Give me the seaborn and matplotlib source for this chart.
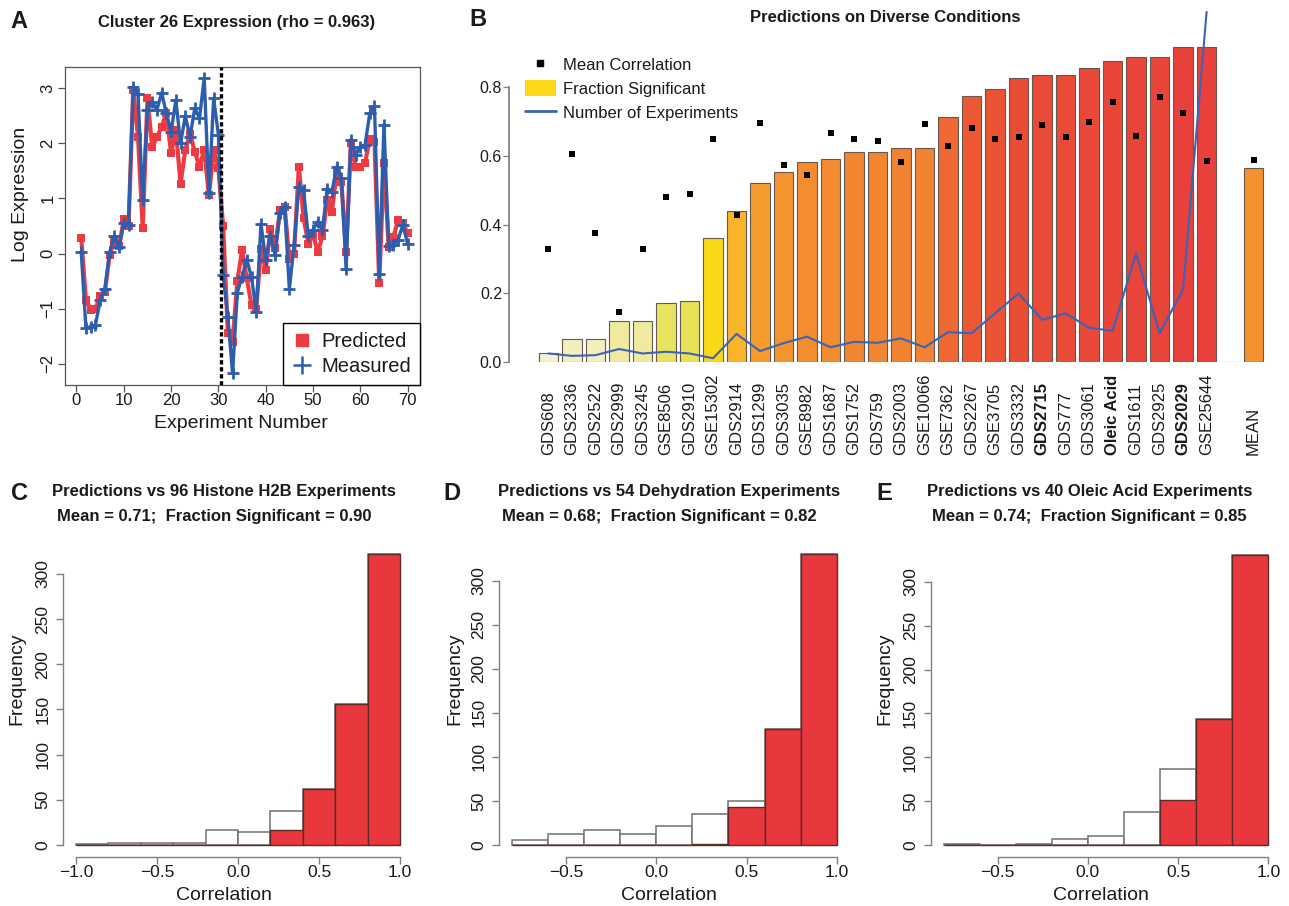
import numpy as np
import matplotlib
matplotlib.use("Agg")
import matplotlib.pyplot as plt
import seaborn as sns
from matplotlib.lines import Line2D
from matplotlib.patches import Patch
from matplotlib.colors import LinearSegmentedColormap

# ---------------- data ----------------
experiment_number = list(range(1, 71))
predicted = [0.29, -0.85, -1.02, -1.00, -0.78, -0.70, -0.03, 0.22, 0.13, 0.62,
             0.50, 2.98, 2.12, 0.47, 2.82, 1.94, 2.12, 2.30, 2.55, 1.82,
             2.25, 1.27, 1.88, 2.18, 1.85, 1.58, 1.88, 1.06, 1.88, 1.55,
             0.50, -1.45, -1.60, -0.50, 0.06, -0.45, -0.94, -1.00, 0.09, -0.30,
             0.45, 0.10, 0.79, 0.85, -0.10, 0.00, 1.58, 0.65, 0.18, 0.34,
             0.03, 0.31, 0.97, 0.76, 1.48, 1.30, 0.03, 2.00, 1.58, 1.58,
             1.64, 2.09, 2.03, -0.54, 1.64, 0.12, 0.30, 0.61, 0.55, 0.37]
measured = [0.03, -1.36, -1.33, -1.30, -0.85, -0.65, 0.02, 0.32, 0.11, 0.56,
            0.52, 3.03, 2.90, 0.97, 2.61, 2.76, 2.61, 2.92, 2.55, 2.21,
            2.79, 2.00, 2.50, 2.12, 2.64, 2.46, 3.19, 1.10, 2.82, 2.16,
            -0.39, -1.15, -2.18, -0.71, -0.42, -0.11, -0.43, -1.06, 0.54, -0.11,
            0.31, -0.03, 0.73, 0.85, -0.65, 0.15, 1.21, 1.15, 0.31, 0.43,
            0.58, 0.43, 1.18, 1.12, 1.58, 1.37, -0.29, 2.07, 1.79, 1.94,
            1.97, 2.55, 2.68, -0.37, 2.34, 0.14, 0.15, 0.25, 0.52, 0.18]
boundary_experiment = 30.5

conditions = ["GDS608", "GDS2336", "GDS2522", "GDS2999", "GDS3245", "GSE8506", "GDS2910",
              "GSE15302", "GDS2914", "GDS1299", "GDS3035", "GSE8982", "GDS1687", "GDS1752",
              "GDS759", "GDS2003", "GSE10066", "GSE7362", "GDS2267", "GSE3705", "GDS3332",
              "GDS2715", "GDS777", "GDS3061", "Oleic Acid", "GDS1611", "GDS2925", "GDS2029",
              "GSE25644", "", "MEAN"]
bold_conditions = ["GDS2715", "Oleic Acid", "GDS2029"]
fraction_significant = [0.025, 0.065, 0.065, 0.12, 0.12, 0.17, 0.178, 0.36, 0.44, 0.52,
                        0.552, 0.581, 0.59, 0.612, 0.612, 0.622, 0.622, 0.714, 0.775, 0.796,
                        0.826, 0.837, 0.837, 0.856, 0.878, 0.887, 0.887, 0.917, 0.917, 0.0,
                        0.564]
mean_correlation = [0.328, 0.607, 0.376, 0.146, 0.328, 0.481, 0.488, 0.648, 0.428, 0.697,
                    0.573, 0.544, 0.666, 0.648, 0.644, 0.581, 0.693, 0.630, 0.682, 0.648,
                    0.656, 0.689, 0.656, 0.700, 0.756, 0.659, 0.771, 0.726, 0.585, None,
                    0.588]
n_experiments_scaled = [0.024, 0.017, 0.019, 0.037, 0.024, 0.029, 0.024, 0.010, 0.081, 0.031,
                        0.054, 0.073, 0.042, 0.058, 0.055, 0.068, 0.042, 0.086, 0.083, 0.141,
                        0.199, 0.122, 0.141, 0.099, 0.090, 0.316, 0.083, 0.211, 1.02]

edges_C = [-1.0, -0.8, -0.6, -0.4, -0.2, 0.0, 0.2, 0.4, 0.6, 0.8, 1.0]
h2b_all = [1, 2, 2, 2, 17, 14, 38, 62, 156, 322]
h2b_sig = [0, 0, 0, 0, 0, 0, 16, 62, 156, 322]
edges_DE = [-0.8, -0.6, -0.4, -0.2, 0.0, 0.2, 0.4, 0.6, 0.8, 1.0]
dehyd_all = [6, 13, 17, 12, 21, 35, 50, 132, 330]
dehyd_sig = [0, 0, 0, 0, 0, 1, 43, 132, 330]
oleic_all = [1, 0, 1, 7, 10, 38, 87, 144, 331]
oleic_sig = [0, 0, 0, 0, 0, 0, 51, 144, 331]

# ---------------- style ----------------
sns.set_theme(style="ticks")
plt.rcParams['font.family'] = ['Liberation Sans', 'DejaVu Sans']
TXT = '#1a1a1a'
plt.rcParams['text.color'] = TXT
RED = '#EE3B43'
BLUE = '#2D5DAD'
LBLUE = '#3B63B8'
HRED = '#E9383D'
AXC = '#808080'

W, H = 1289, 906
fig = plt.figure(figsize=(W / 100, H / 100), dpi=100)
fig.patch.set_facecolor('white')


def rect(l, t, r, b):
    return [l / W, 1 - b / H, (r - l) / W, (b - t) / H]


def fx(x):
    return x / W


def fy(y):
    return 1 - y / H


def label_at(ax, which, text, xp, yp, box, size):
    l, t, r, b = box
    xa = (xp - l) / (r - l)
    ya = (b - yp) / (b - t)
    if which == 'x':
        ax.set_xlabel(text, fontsize=size, va='center', ha='center', color=TXT)
        ax.xaxis.set_label_coords(xa, ya)
    else:
        ax.set_ylabel(text, fontsize=size, va='center', ha='center', color=TXT)
        ax.yaxis.set_label_coords(xa, ya)


# ---------------- Panel A ----------------
boxA = (65, 67, 420, 385)
axA = fig.add_axes(rect(*boxA))
sns.lineplot(x=experiment_number, y=predicted, color=RED, lw=3.0, marker='s',
             markersize=5.5, markeredgewidth=0, markerfacecolor=RED, markeredgecolor=RED,
             ax=axA, zorder=2)
sns.lineplot(x=experiment_number, y=measured, color=BLUE, lw=2.4, marker='+',
             markersize=8, markeredgewidth=2.0, markeredgecolor=BLUE, markerfacecolor=BLUE,
             ax=axA, zorder=3)
axA.axvline(boundary_experiment, color='black', lw=2.4, ls=(0, (1.3, 0.8)), zorder=4)
axA.set_xlim(-2.43, 72.62)
axA.set_ylim(-2.39, 3.39)
axA.set_xticks(range(0, 71, 10))
axA.set_yticks(range(-2, 4))
for s in axA.spines.values():
    s.set_color('#555555')
    s.set_linewidth(0.9)
axA.tick_params(axis='both', direction='out', length=5, width=0.9, color='#555555',
                labelsize=12, labelcolor=TXT)
axA.tick_params(axis='x', pad=1)
axA.tick_params(axis='y', pad=2, labelrotation=90)
plt.setp(axA.get_yticklabels(), va='center')
label_at(axA, 'x', 'Experiment Number', 241, 423, boxA, 14)
label_at(axA, 'y', 'Log Expression', 20.5, 194, boxA, 14)
handlesA = [Line2D([], [], ls='none', marker='s', markersize=8, markerfacecolor=RED,
                   markeredgecolor=RED),
            Line2D([], [], ls='none', marker='+', markersize=13, markeredgewidth=1.8,
                   color=BLUE)]
legA = axA.legend(handlesA, ['Predicted', 'Measured'], loc='lower right',
                  bbox_to_anchor=(1, 0), borderaxespad=0, fontsize=14.5, frameon=True,
                  fancybox=False, edgecolor='black', framealpha=1, handlelength=1.0,
                  handletextpad=0.45, borderpad=0.45, labelspacing=0.3)
legA.get_frame().set_linewidth(1.0)
fig.text(fx(237), fy(22), 'Cluster 26 Expression (rho = 0.963)', ha='center', va='center',
         fontsize=12, fontweight='bold')
fig.text(fx(19), fy(22), 'A', ha='center', va='center', fontsize=17, fontweight='bold')

# ---------------- Panel B ----------------
boxB = (509, 40, 1275, 361.7)
axB = fig.add_axes(rect(*boxB))
pos = np.arange(len(conditions))
frac_cmap = LinearSegmentedColormap.from_list('frac', [
    (0.0, '#F6F4DE'), (0.065 / 0.92, '#F3EEBC'), (0.12 / 0.92, '#EFEA9F'),
    (0.175 / 0.92, '#E9E258'), (0.36 / 0.92, '#FAD817'), (0.44 / 0.92, '#F9B42A'),
    (0.52 / 0.92, '#F69D2E'), (0.60 / 0.92, '#F3892F'), (0.62 / 0.92, '#F1832F'),
    (0.71 / 0.92, '#EF6A31'), (0.78 / 0.92, '#EC5834'), (0.84 / 0.92, '#EA4B37'),
    (1.0, '#E8403B')])
sns.barplot(x=pos, y=fraction_significant, native_scale=True, width=0.82,
            color='#F2862F', edgecolor='#665a50', linewidth=0.8, errorbar=None, ax=axB)
fmax = max(fraction_significant)
for patch, v in zip(axB.patches, fraction_significant):
    patch.set_facecolor(frac_cmap(min(v / fmax, 1.0)))
mean_arr = np.array([np.nan if v is None else v for v in mean_correlation])
sns.scatterplot(x=pos, y=mean_arr, marker='s', color='black', s=16, linewidth=0,
                ax=axB, zorder=5, legend=False)
sns.lineplot(x=pos[:len(n_experiments_scaled)], y=n_experiments_scaled, color=LBLUE,
             lw=1.5, ax=axB, clip_on=False, zorder=4)
axB.set_xlim(-1.68, 30.91)
axB.set_ylim(0, 0.938)
for side in ['top', 'right', 'bottom']:
    axB.spines[side].set_visible(False)
axB.spines['left'].set_bounds(0, 0.8)
axB.spines['left'].set_color(AXC)
axB.set_yticks([0.0, 0.2, 0.4, 0.6, 0.8])
axB.tick_params(axis='y', length=4, width=0.9, color=AXC, labelsize=11.5,
                labelcolor=TXT, pad=1)
axB.set_xticks(pos)
axB.set_xticklabels(conditions, rotation=90, va='bottom', ha='center', fontsize=12,
                    color=TXT)
axB.tick_params(axis='x', length=0, pad=67.2)
for lbl in axB.get_xticklabels():
    if lbl.get_text() in bold_conditions:
        lbl.set_fontweight('bold')
axB.set_xlabel('')
axB.set_ylabel('')
handlesB = [Line2D([], [], ls='none', marker='s', markersize=4.5, color='black'),
            Patch(facecolor='#FDD81B', edgecolor='none'),
            Line2D([], [], color=LBLUE, lw=2)]
fig.legend(handlesB, ['Mean Correlation', 'Fraction Significant', 'Number of Experiments'],
           loc='upper left', bbox_to_anchor=(fx(525), fy(56)), frameon=False, fontsize=12,
           handlelength=1.85, handleheight=1.1, handletextpad=0.45, labelspacing=0.45,
           borderpad=0, borderaxespad=0)
fig.text(fx(885.6), fy(18), 'Predictions on Diverse Conditions', ha='center', va='center',
         fontsize=12, fontweight='bold')
fig.text(fx(478), fy(20), 'B', ha='center', va='center', fontsize=17, fontweight='bold')


# ---------------- Panels C, D, E ----------------
def hist_panel(box, edges, all_c, sig_c, xticks, xlim, ylim, letter, letter_x,
               t1, t1x, t2, t2x, freq_x, corr_x):
    ax = fig.add_axes(rect(*box))
    centers = [(a + b) / 2 for a, b in zip(edges[:-1], edges[1:])]
    sns.histplot(x=centers, weights=all_c, bins=edges, color='white', edgecolor='#707070',
                 linewidth=1.1, alpha=1, ax=ax)
    sns.histplot(x=centers, weights=sig_c, bins=edges, color=HRED, edgecolor='#5b2a2a',
                 linewidth=1.0, alpha=1, ax=ax)
    ax.set_xlim(*xlim)
    ax.set_ylim(*ylim)
    ax.spines['top'].set_visible(False)
    ax.spines['right'].set_visible(False)
    ax.spines['left'].set_bounds(0, 300)
    ax.spines['bottom'].set_bounds(xticks[0], xticks[-1])
    for side in ['left', 'bottom']:
        ax.spines[side].set_color(AXC)
        ax.spines[side].set_linewidth(1.0)
    ax.set_xticks(xticks)
    ax.set_yticks(range(0, 301, 50))
    ax.tick_params(axis='both', direction='out', length=5, width=1.0, color=AXC,
                   labelsize=12.5, labelcolor=TXT)
    ax.tick_params(axis='x', pad=1)
    ax.tick_params(axis='y', pad=4, labelrotation=90)
    plt.setp(ax.get_yticklabels(), va='center')
    label_at(ax, 'x', 'Correlation', corr_x, 895, box, 14)
    label_at(ax, 'y', 'Frequency', freq_x, 679, box, 14)
    fig.text(fx(t1x), fy(491.7), t1, ha='center', va='center', fontsize=12,
             fontweight='bold')
    fig.text(fx(t2x), fy(516.7), t2, ha='center', va='center', fontsize=12,
             fontweight='bold')
    fig.text(fx(letter_x), fy(493), letter, ha='center', va='center', fontsize=17,
             fontweight='bold')
    return ax


hist_panel((63, 542, 413, 857), edges_C, h2b_all, h2b_sig, [-1.0, -0.5, 0.0, 0.5, 1.0],
           (-1.08, 1.08), (-13.4, 335.4), 'C', 20,
           'Predictions vs 96 Histone H2B Experiments', 224,
           'Mean = 0.71;  Fraction Significant = 0.90', 214, 17, 224)
hist_panel((499, 542.6, 849.7, 856.6), edges_DE, dehyd_all, dehyd_sig, [-0.5, 0.0, 0.5, 1.0],
           (-0.872, 1.072), (-13.2, 343.2), 'D', 452,
           'Predictions vs 54 Dehydration Experiments', 668.7,
           'Mean = 0.68;  Fraction Significant = 0.82', 659, 455, 669)
hist_panel((930.6, 543, 1281.3, 856.6), edges_DE, oleic_all, oleic_sig, [-0.5, 0.0, 0.5, 1.0],
           (-0.872, 1.072), (-13.2, 344.2), 'E', 884,
           'Predictions vs 40 Oleic Acid Experiments', 1090,
           'Mean = 0.74;  Fraction Significant = 0.85', 1089, 885, 1101)

fig.savefig('out.png', dpi=100, facecolor='white')
